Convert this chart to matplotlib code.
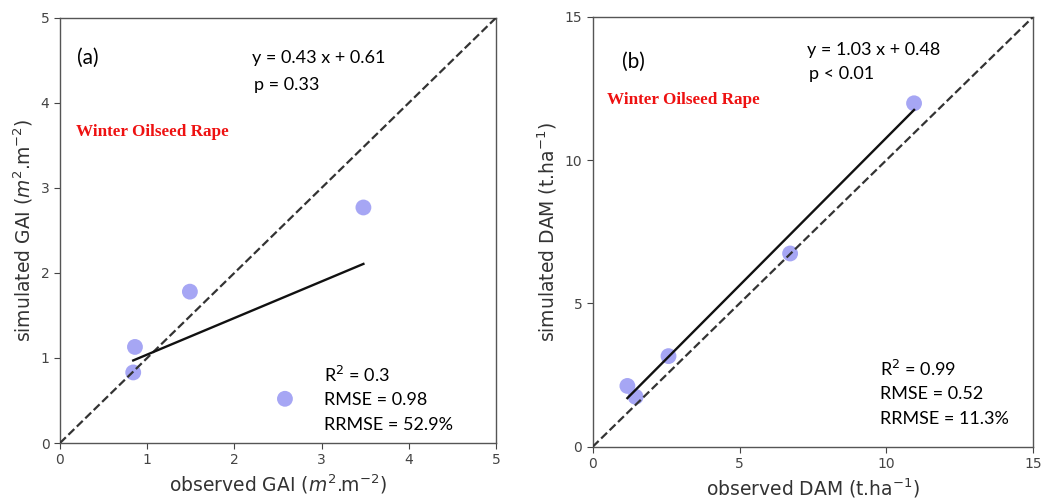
import matplotlib.pyplot as plt
import numpy as np

# GAI (m2/m2), observed vs simulated
gai_obs = [0.86, 0.84, 1.49, 3.48, 2.58]
gai_sim = [1.13, 0.83, 1.78, 2.77, 0.52]
gai_fit = (0.43, 0.61)
gai_stats = ["R$^2$ = 0.3", "RMSE = 0.98", "RRMSE = 52.9%"]

# DAM (t/ha), observed vs simulated
dam_obs = [1.18, 1.46, 2.58, 6.72, 10.94]
dam_sim = [2.12, 1.74, 3.16, 6.74, 11.98]
dam_fit = (1.03, 0.48)
dam_stats = ["R$^2$ = 0.99", "RMSE = 0.52", "RRMSE = 11.3%"]

pt_color = "#a6a6f4"
ann_font = "Lato"

fig = plt.figure(figsize=(10.43, 4.99), dpi=100)
ax1 = fig.add_axes([0.0575, 0.1122, 0.418, 0.852])
ax2 = fig.add_axes([0.5683, 0.1048, 0.4224, 0.8617])


def draw_panel(ax, obs, sim, fit, stats, lim, ticks, tag, tag_xy, eq_xy, p_txt, p_xy,
               crop_xy, stats_xy, stats_dy, xlabel, ylabel):
    ax.scatter(obs, sim, s=130, color=pt_color, edgecolors="none", zorder=2)
    ax.plot([0, lim], [0, lim], "--", color="#333333", lw=1.6, zorder=3)
    xs = np.array([min(obs), max(obs)])
    ax.plot(xs, fit[0] * xs + fit[1], color="#111111", lw=1.7, zorder=3)

    ax.set_xlim(0, lim)
    ax.set_ylim(0, lim)
    ax.set_xticks(ticks)
    ax.set_yticks(ticks)
    ax.tick_params(labelsize=10, colors="#444444", length=4, width=0.8)
    for sp in ax.spines.values():
        sp.set_color("#555555")
        sp.set_linewidth(1.0)

    ax.set_xlabel(xlabel, fontsize=13.5, color="#333333", labelpad=4)
    ax.set_ylabel(ylabel, fontsize=13.5, color="#333333", labelpad=4)

    ax.text(*tag_xy, tag, fontsize=15, family=ann_font, va="center")
    ax.text(*eq_xy, "y = %.2f x + %.2f" % fit, fontsize=13, family=ann_font, va="center")
    ax.text(*p_xy, p_txt, fontsize=13, family=ann_font, va="center")
    ax.text(*crop_xy, "Winter Oilseed Rape", fontsize=12.3, family="Liberation Serif",
            fontweight="bold", color="#ee1111", va="center")
    for i, s in enumerate(stats):
        ax.text(stats_xy[0], stats_xy[1] - i * stats_dy, s, fontsize=13,
                family=ann_font, va="center")


draw_panel(ax1, gai_obs, gai_sim, gai_fit, gai_stats, 5, range(0, 6), "(a)",
           (0.2, 4.53), (2.2, 4.53), "p = 0.33", (2.23, 4.21), (0.18, 3.66),
           (3.03, 0.80), 0.295,
           r"observed GAI ($m^2$.m$^{-2}$)", r"simulated GAI ($m^2$.m$^{-2}$)")

draw_panel(ax2, dam_obs, dam_sim, dam_fit, dam_stats, 15, [0, 5, 10, 15], "(b)",
           (1.0, 13.43), (7.31, 13.84), "p < 0.01", (7.36, 13.0), (0.5, 12.09),
           (9.78, 2.70), 0.87,
           r"observed DAM (t.ha$^{-1}$)", r"simulated DAM (t.ha$^{-1}$)")

fig.savefig("out.png", dpi=100)
